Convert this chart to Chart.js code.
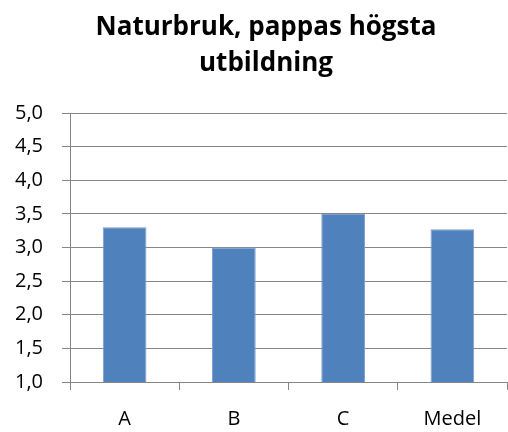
<!DOCTYPE html>
<html>
<head>
<meta charset="utf-8">
<script src="https://cdn.jsdelivr.net/npm/chart.js@4/dist/chart.umd.min.js"></script>
<style>
  html, body { margin: 0; padding: 0; background: #ffffff; }
  #wrap { width: 508px; height: 432px; }
</style>
</head>
<body>
<div id="wrap"><canvas id="chart" width="508" height="432"></canvas></div>
<script>
const TITLE_LINES = ["Naturbruk, pappas högsta", "utbildning"];
const CATEGORIES = ["A", "B", "C", "Medel"];
const VALUES = [3.3, 3.0, 3.5, 3.27];
const Y_MIN = 1.0;
const Y_MAX = 5.0;
const Y_STEP = 0.5;

const BAR_COLOR = "#4f81bd";
const BAR_BORDER = "#7b9fd0";
const GRID_COLOR = "#868686";
const FONT = "'Open Sans', 'Noto Sans', sans-serif";

// title drawn by hand so it can sit off-centre like the original
const titlePlugin = {
    id: "twoLineTitle",
    afterDraw(chart) {
        const ctx = chart.ctx;
        ctx.save();
        ctx.fillStyle = "#000000";
        ctx.font = `bold 26px ${FONT}`;
        ctx.textAlign = "center";
        ctx.textBaseline = "middle";
        TITLE_LINES.forEach((line, i) => {
            ctx.fillText(line, 266, 28 + i * 36);
        });
        ctx.restore();
    },
};

new Chart(document.getElementById("chart"), {
    type: "bar",
    data: {
        labels: CATEGORIES,
        datasets: [
            {
                data: VALUES,
                backgroundColor: BAR_COLOR,
                borderColor: BAR_BORDER,
                borderWidth: 1,
                barPercentage: 0.4,
                categoryPercentage: 1.0,
            },
        ],
    },
    plugins: [titlePlugin],
    options: {
        responsive: false,
        animation: false,
        devicePixelRatio: 1,
        layout: { padding: { left: 0, right: 1, top: 113, bottom: 2 } },
        plugins: {
            legend: { display: false },
            tooltip: { enabled: false },
            title: { display: false },
        },
        scales: {
            y: {
                min: Y_MIN,
                max: Y_MAX,
                ticks: {
                    stepSize: Y_STEP,
                    color: "#000000",
                    padding: 19,
                    font: { family: FONT, size: 20 },
                    callback: (value) => value.toFixed(1).replace(".", ","),
                },
                grid: { color: GRID_COLOR, lineWidth: 1, tickLength: 8 },
                border: { color: GRID_COLOR, width: 1 },
                afterFit: (scale) => { scale.width = 70; },
            },
            x: {
                ticks: {
                    color: "#000000",
                    padding: 17,
                    font: { family: FONT, size: 20 },
                },
                grid: { color: GRID_COLOR, drawOnChartArea: false, tickLength: 8, offset: true },
                border: { color: GRID_COLOR, width: 1 },
                afterFit: (scale) => { scale.height = 48; },
            },
        },
    },
});
</script>
</body>
</html>
